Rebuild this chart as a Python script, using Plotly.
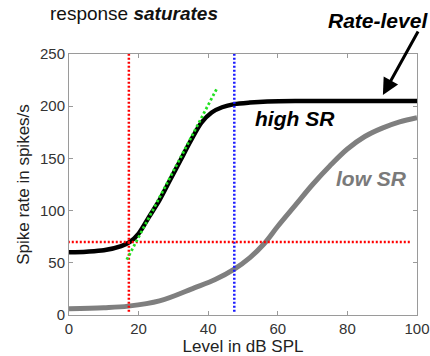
import plotly.graph_objects as go

# ---- data ----
high_sr_db = [0, 5, 10, 15, 17.5, 20, 23, 26, 29, 32, 35, 38, 41, 44, 47.5, 52, 57, 65, 80, 100]
high_sr_rate = [60, 60.7, 62, 66, 70, 78, 94, 110, 129, 148, 167, 184, 194, 199, 202, 203.5, 204.5, 205, 205, 205]

low_sr_db = [0, 10, 17, 26, 36, 42, 47.5, 52, 56, 60, 65, 70, 75, 80, 85, 90, 95, 100]
low_sr_rate = [6, 7, 8.5, 13.5, 26, 34, 44, 55, 68, 85, 105, 125, 143, 159, 171, 179, 185, 189]

threshold_db = 17.2
saturation_db = 47.5
threshold_rate = 70
marker_rate_span = [3, 250]
threshold_db_span = [-1.5, 98.5]
tangent_db = [16.6, 42.5]
tangent_rate = [53, 217]

x_ticks = [0, 20, 40, 60, 80, 100]
y_ticks = [0, 50, 100, 150, 200, 250]

FONT = "Liberation Sans, Arial, sans-serif"

fig = go.Figure()

fig.add_trace(go.Scatter(x=low_sr_db, y=low_sr_rate, mode="lines",
                         line=dict(color="#7f7f7f", width=5, shape="spline", smoothing=1.0),
                         hoverinfo="skip"))
fig.add_trace(go.Scatter(x=high_sr_db, y=high_sr_rate, mode="lines",
                         line=dict(color="#000000", width=4.5, shape="spline", smoothing=0.8),
                         hoverinfo="skip"))

dots = "2px,2px"
fig.add_trace(go.Scatter(x=[threshold_db, threshold_db], y=marker_rate_span, mode="lines",
                         line=dict(color="#ff0000", width=2.5, dash=dots), hoverinfo="skip"))
fig.add_trace(go.Scatter(x=[saturation_db, saturation_db], y=marker_rate_span, mode="lines",
                         line=dict(color="#1a1aff", width=2.5, dash=dots), hoverinfo="skip"))
fig.add_trace(go.Scatter(x=threshold_db_span, y=[threshold_rate, threshold_rate], mode="lines",
                         line=dict(color="#ff0000", width=2.5, dash=dots), hoverinfo="skip"))
fig.add_trace(go.Scatter(x=tangent_db, y=tangent_rate, mode="lines",
                         line=dict(color="#22e022", width=2.8, dash="2.5px,2.5px"), hoverinfo="skip"))

axis_common = dict(
    showline=True, linecolor="#9a9a9a", linewidth=1, mirror="ticks",
    ticks="inside", ticklen=4, tickcolor="#9a9a9a",
    showgrid=False, zeroline=False, automargin=False,
    tickfont=dict(family=FONT, size=15, color="#333333"),
)

fig.update_xaxes(range=[0, 100], tickvals=x_ticks, **axis_common,
                 title=dict(text="Level in dB SPL", font=dict(family=FONT, size=17, color="#222222"),
                            standoff=10))
fig.update_yaxes(range=[0, 250], tickvals=y_ticks, **axis_common,
                 title=dict(text="Spike rate in spikes/s", font=dict(family=FONT, size=17, color="#222222"),
                            standoff=6))

fig.add_annotation(x=-0.060, y=1.157, xref="paper", yref="paper",
                   xanchor="left", yanchor="middle",
                   text="response <b><i>saturates</i></b>", showarrow=False,
                   font=dict(family=FONT, size=19, color="#111111"))
fig.add_annotation(x=0.888, y=1.130, xref="paper", yref="paper",
                   xanchor="center", yanchor="middle",
                   text="<b><i>Rate-level</i></b>", showarrow=False,
                   font=dict(family=FONT, size=21, color="#000000"))
fig.add_annotation(x=90.2, y=210.7, xref="x", yref="y", ax=36, ay=-65,
                   text="", showarrow=True, arrowhead=2, arrowsize=1.1, arrowwidth=3,
                   arrowcolor="#000000")
fig.add_annotation(x=64.9, y=188, xref="x", yref="y", xanchor="center", yanchor="middle",
                   text="<b><i>high SR</i></b>", showarrow=False,
                   font=dict(family=FONT, size=21, color="#000000"))
fig.add_annotation(x=87, y=131, xref="x", yref="y", xanchor="center", yanchor="middle",
                   text="<b><i>low SR</i></b>", showarrow=False,
                   font=dict(family=FONT, size=21, color="#7a7a7a"))

fig.update_layout(
    width=430, height=356,
    margin=dict(l=69, r=13, t=54, b=41, autoexpand=False),
    paper_bgcolor="#ffffff", plot_bgcolor="#ffffff",
    showlegend=False,
)

fig.write_html("out.html", config={"displayModeBar": False},
               post_script="document.body.style.margin='0';document.body.style.overflow='hidden';")
